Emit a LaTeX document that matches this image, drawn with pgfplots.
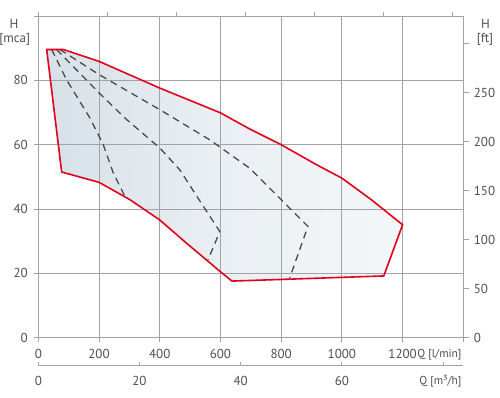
\documentclass[border=0pt]{standalone}
\usepackage{pgfplots}
\pgfplotsset{compat=1.18}
\usepackage{fontspec}
\setmainfont{PT Sans}
\definecolor{gridc}{HTML}{A3A3A3}
\definecolor{txt}{HTML}{4F4F4F}
\definecolor{redc}{HTML}{E2001A}
\definecolor{fillL}{HTML}{D6E0E8}
\definecolor{fillM}{HTML}{EAEFF3}
\definecolor{fillR}{HTML}{F4F7F9}
\definecolor{dashc}{HTML}{4A4A4A}
\begin{document}
\begin{tikzpicture}[font=\fontsize{13}{15}\selectfont]
\pgfplotsset{
  base/.style={scale only axis, width=425pt, height=321.7pt, at={(0,0)}, anchor=south west,
    axis line style={gridc, line width=0.8pt},
    tick style={gridc, line width=0.8pt},
    ticklabel style={text=txt, font=\fontsize{13}{15}\selectfont},
    /pgf/number format/assume math mode=true,
    tick align=outside, major tick length=4pt},
}
% fill of the envelope (below the grid)
\begin{axis}[base, hide axis,
  xmin=0, xmax=1400, ymin=0, ymax=100,
  colormap={envfill}{color(0)=(fillL) color(0.5)=(fillM) color(1)=(fillR)},
  point meta min=0, point meta max=1200]
\addplot[patch, shader=interp, point meta=x]
coordinates {
(27.6,89.6) (77,51.5) (82,89.6)
(82,89.6) (77,51.5) (200,48.3)
(82,89.6) (200,48.3) (200,85.9)
(200,85.9) (200,48.3) (302,42.9)
(200,85.9) (302,42.9) (400,77.6)
(400,77.6) (302,42.9) (400,36.6)
(400,77.6) (400,36.6) (488,29.4)
(400,77.6) (488,29.4) (600,69.9)
(600,69.9) (488,29.4) (600,20.5)
(600,69.9) (600,20.5) (638,17.6)
(600,69.9) (638,17.6) (696,64.9)
(696,64.9) (638,17.6) (800,60)
(800,60) (638,17.6) (828,18.2)
(800,60) (828,18.2) (916,53.8)
(916,53.8) (828,18.2) (1000,49.6)
(1000,49.6) (828,18.2) (1097,42.9)
(1097,42.9) (828,18.2) (1138,19.2)
(1097,42.9) (1138,19.2) (1200,35.1)
};
\end{axis}
% main axis: l/min vs mca
\begin{axis}[base,
  xmin=0, xmax=1400, ymin=0, ymax=100,
  xtick={0,200,...,1400}, ytick={0,20,...,100},
  xticklabels={0,200,400,600,800,1000,1200,{}},
  yticklabels={0,20,40,60,80,{}},
  xtick pos=bottom, ytick pos=left,
  grid=major, grid style={gridc, line width=0.8pt},
  xticklabel style={yshift=-4pt},
  yticklabel style={xshift=-3pt},
]
\addplot[dashc, line width=1.3pt, dash pattern=on 7pt off 5pt]
coordinates {(44,89.6) (93,80.2) (170,68.3) (214,60) (247,51.2) (285,44)};
\addplot[dashc, line width=1.3pt, dash pattern=on 7pt off 5pt]
coordinates {(60,89.6) (200,76.1) (291,67.8) (400,59) (466,52.2) (526,43.4) (598,33) (559,24.2)};
\addplot[dashc, line width=1.3pt, dash pattern=on 7pt off 5pt]
coordinates {(71,89.6) (200,81.8) (400,70.9) (565,61.5) (696,52.7) (800,42.9) (888,34.6) (828,18.5)};
\addplot[redc, line width=1.6pt, line join=miter]
coordinates {(27.6,89.6) (82,89.6) (200,85.9) (400,77.6) (600,69.9) (696,64.9) (800,60) (916,53.8) (1000,49.6) (1097,42.9) (1200,35.1) (1138,19.2) (828,18.2) (638,17.6) (600,20.5) (488,29.4) (400,36.6) (302,42.9) (200,48.3) (77,51.5)} -- cycle;
\end{axis}
% right axis: ft
\begin{axis}[base, hide x axis, axis y line*=right,
  ymin=0, ymax=328.084, xmin=0, xmax=1,
  ytick={0,50,...,300}, yticklabels={0,50,100,150,200,250,{}},
  major tick length=6pt, yticklabel style={xshift=1pt}]
\addplot[draw=none] coordinates {(0,0)};
\end{axis}
% top axis ticks
\begin{axis}[base, hide y axis, axis x line*=top,
  xmin=0, xmax=1400, ymin=0, ymax=1,
  xtick={0,227.3,454.6,681.9,909.2,1136.5,1363.8}, xticklabels={}]
\addplot[draw=none] coordinates {(0,0)};
\end{axis}
% bottom m3/h axis
\begin{axis}[base, height=10pt, at={(0,-28pt)}, hide y axis, axis x line*=bottom,
  x axis line style={-},
  xmin=0, xmax=84, ymin=0, ymax=1,
  xtick={0,20,...,80}, xticklabels={0,20,40,60,{}},
  tick align=inside, xticklabel style={yshift=-7pt}]
\addplot[draw=none] coordinates {(0,0)};
\end{axis}
\node[text=txt] at (-24.3pt,313.7pt) {H};
\node[text=txt] at (-23.6pt,298.2pt) {[mca]};
\node[text=txt] at (447.2pt,313.7pt) {H};
\node[text=txt] at (446.7pt,298.2pt) {[ft]};
\node[text=txt, anchor=east, inner sep=0pt, font=\fontsize{11.5}{13}\selectfont] at (423.4pt,-16.6pt) {Q [l/min]};
\node[text=txt, anchor=east, inner sep=0pt, font=\fontsize{11.5}{13}\selectfont] at (423.4pt,-44pt) {Q [m³/h]};
\pgfresetboundingbox
\useasboundingbox (-38.3pt,-59.3pt) rectangle (461.7pt,337.7pt);
\end{tikzpicture}
\end{document}
